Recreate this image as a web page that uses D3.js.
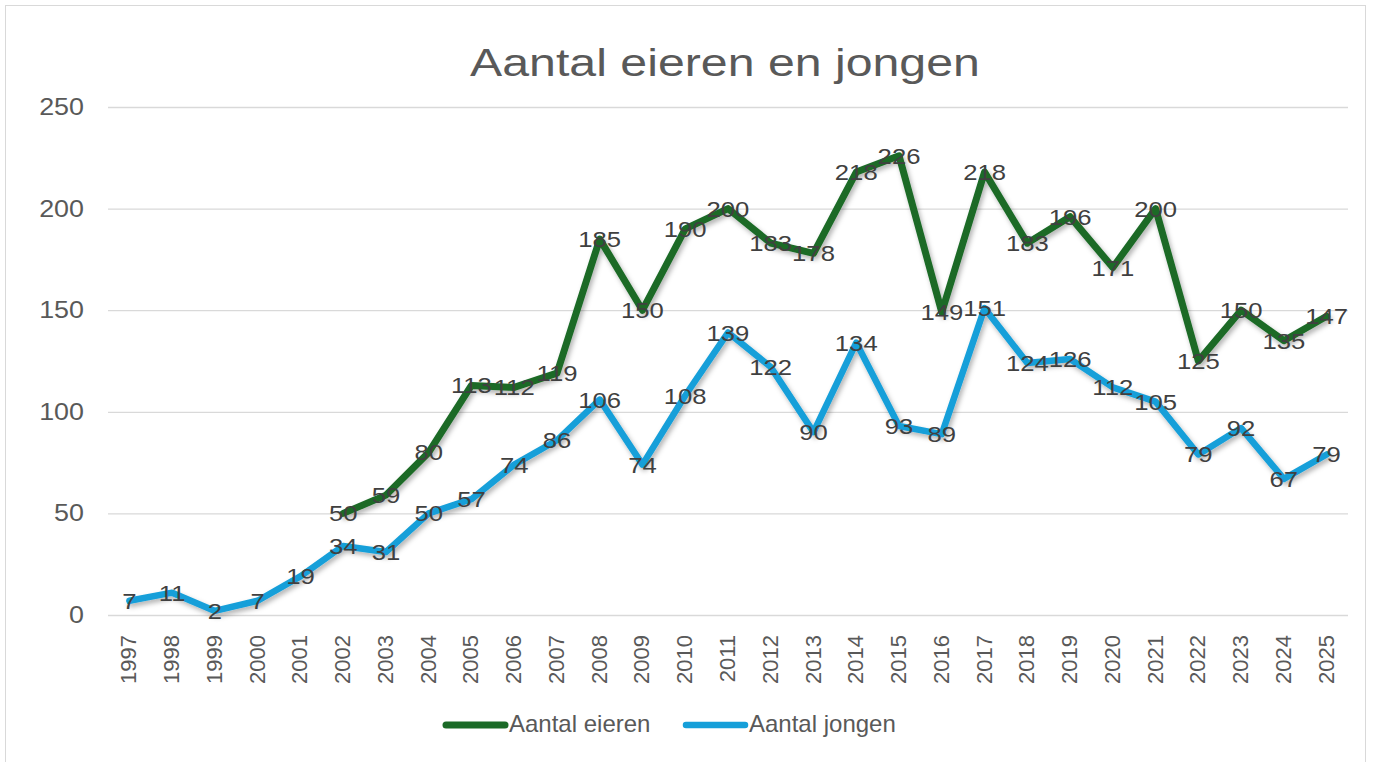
<!DOCTYPE html>
<html>
<head>
<meta charset="utf-8">
<script src="https://cdn.jsdelivr.net/npm/d3@7"></script>
<style>
  body { margin: 0; background: #fff; }
  text { font-family: "Liberation Sans", Arial, sans-serif; fill: #595959; }
</style>
</head>
<body>
<div id="chart"></div>
<script>
// Data
const years = d3.range(1997, 2026).map(String);
const eieren = [null, null, null, null, null, 50, 59, 80, 113, 112, 119, 185, 150, 190, 200, 183, 178, 218, 226, 149, 218, 183, 196, 171, 200, 125, 150, 135, 147];
const jongen = [7, 11, 2, 7, 19, 34, 31, 50, 57, 74, 86, 106, 74, 108, 139, 122, 90, 134, 93, 89, 151, 124, 126, 112, 105, 79, 92, 67, 79];
const yTicks = [0, 50, 100, 150, 200, 250];

const W = 1373, H = 762;
const margin = { top: 107, right: 25, bottom: 147, left: 108 };
const width = W - margin.left - margin.right,
      height = H - margin.top - margin.bottom;

// widen text a little, the original font runs wider than Liberation Sans
function stretch(sel, k) {
    sel.each(function () {
        const len = this.getComputedTextLength();
        d3.select(this).attr("textLength", len * k).attr("lengthAdjust", "spacingAndGlyphs");
    });
}

const svg = d3.select("#chart").append("svg")
    .attr("width", W).attr("height", H);

// drop shadow for lines
const defs = svg.append("defs");
const f = defs.append("filter").attr("id", "shadow").attr("x", "-5%").attr("y", "-5%").attr("width", "110%").attr("height", "120%");
f.append("feDropShadow").attr("dx", 2).attr("dy", 3).attr("stdDeviation", 2.5)
    .attr("flood-color", "#000").attr("flood-opacity", 0.3);

// chart border
svg.append("rect").attr("x", 5.5).attr("y", 5.5).attr("width", 1360).attr("height", 770)
    .attr("fill", "none").attr("stroke", "#d9d9d9");

svg.append("text").attr("x", 725).attr("y", 76).attr("text-anchor", "middle")
    .style("font-size", "38px").text("Aantal eieren en jongen")
    .call(stretch, 1.27);

const g = svg.append("g").attr("transform", `translate(${margin.left},${margin.top})`);

const x = d3.scaleBand().domain(years).range([0, width]);
const y = d3.scaleLinear().domain([0, 250]).range([height, 0]);
const cx = d => x(d) + x.bandwidth() / 2;

// grid
g.append("g")
    .call(d3.axisLeft(y).tickValues(yTicks).tickSize(-width).tickFormat(""))
    .call(a => a.select(".domain").remove())
    .selectAll("line").attr("stroke", "#d9d9d9").attr("stroke-width", 1.3);

// y labels
g.append("g").selectAll("text").data(yTicks).enter().append("text")
    .attr("x", -24).attr("y", d => y(d) + 8).attr("text-anchor", "end")
    .style("font-size", "24px").text(d => d)
    .call(stretch, 1.12);

// x labels
g.append("g").selectAll("text").data(years).enter().append("text")
    .attr("transform", d => `translate(${cx(d) + 7},${height + 20}) rotate(-90)`)
    .attr("text-anchor", "end").style("font-size", "22px").text(d => d);

const series = [
    { name: "Aantal eieren", values: eieren, color: "#1b6a27", w: 7 },
    { name: "Aantal jongen", values: jongen, color: "#159fd9", w: 6.5 }
];

const line = d3.line()
    .defined(d => d.v != null)
    .x(d => cx(d.year)).y(d => y(d.v));

series.forEach(s => {
    const pts = years.map((yr, i) => ({ year: yr, v: s.values[i] }));
    g.append("path").datum(pts)
        .attr("d", line).attr("fill", "none")
        .attr("stroke", s.color).attr("stroke-width", s.w)
        .attr("stroke-linejoin", "round").attr("stroke-linecap", "round")
        .attr("filter", "url(#shadow)");
    s.pts = pts;
});

// data labels centred on points
series.forEach(s => {
    g.append("g").selectAll("text").data(s.pts.filter(d => d.v != null)).enter().append("text")
        .attr("x", d => cx(d.year)).attr("y", d => y(d.v) + 8)
        .attr("text-anchor", "middle").style("font-size", "22.5px").style("fill", "#404040")
        .text(d => d.v)
        .call(stretch, 1.14);
});

// legend
const legend = svg.append("g");
const legendX = [446, 686];
series.forEach((s, i) => {
    legend.append("line").attr("x1", legendX[i]).attr("x2", legendX[i] + 59)
        .attr("y1", 725).attr("y2", 725)
        .attr("stroke", s.color).attr("stroke-width", s.w).attr("stroke-linecap", "round");
    legend.append("text").attr("x", legendX[i] + 63).attr("y", 732)
        .style("font-size", "24px").text(s.name);
});
</script>
</body>
</html>
